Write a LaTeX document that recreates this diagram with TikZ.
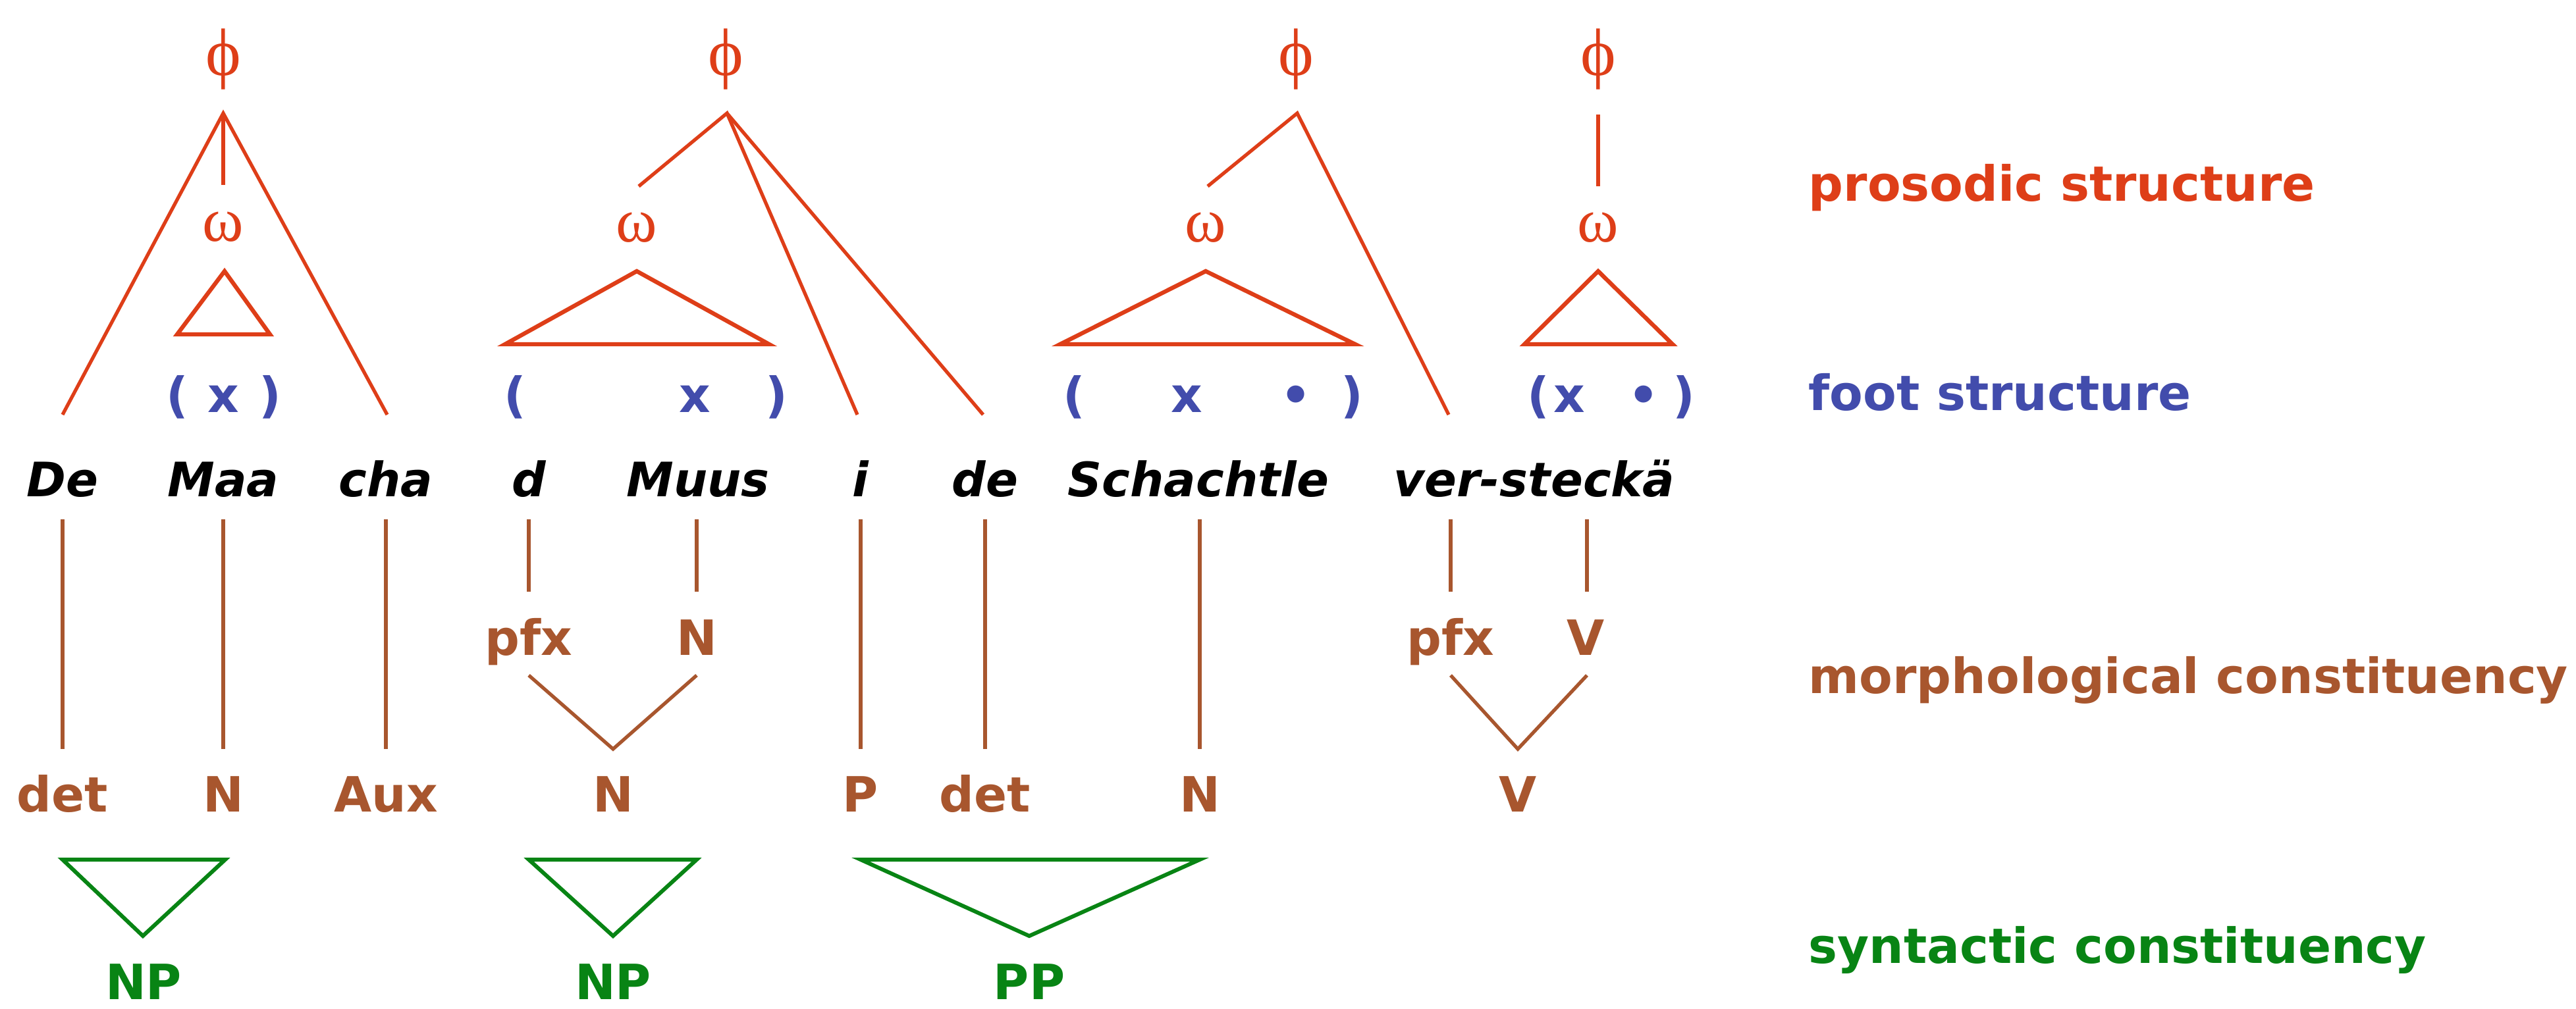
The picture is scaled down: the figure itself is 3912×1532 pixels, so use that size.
\documentclass[tikz,border=0pt]{standalone}
\usepackage{fontspec}
\setmainfont{DejaVu Sans}
\newfontfamily\grk{Liberation Serif}
\definecolor{pred}{RGB}{222,62,24}
\definecolor{pblue}{RGB}{66,76,172}
\definecolor{pbrown}{RGB}{168,86,46}
\definecolor{pgreen}{RGB}{8,132,20}
\begin{document}
\begin{tikzpicture}[x=0.01cm,y=-0.01cm,
  word/.style={anchor=base,inner sep=0pt,font=\fontsize{20.5}{24}\selectfont\bfseries\itshape,text=black},
  cat/.style={anchor=base,inner sep=0pt,font=\fontsize{21}{25}\selectfont\bfseries,text=pbrown},
  foot/.style={anchor=base,inner sep=0pt,font=\fontsize{21}{25}\selectfont\bfseries,text=pblue},
  syn/.style={anchor=base,inner sep=0pt,font=\fontsize{21}{25}\selectfont\bfseries,text=pgreen},
  gk/.style={inner sep=0pt,font=\grk\fontsize{29}{32}\selectfont,text=pred},
  gkb/.style={anchor=base,inner sep=0pt,font=\grk\fontsize{27}{30}\selectfont,text=pred},
  lab/.style={anchor=base west,inner sep=0pt,font=\fontsize{21}{25}\selectfont\bfseries},
  pros/.style={draw=pred,line width=1.5pt},
  tri/.style={draw=pred,line width=1.8pt},
  morph/.style={draw=pbrown,line width=1.5pt},
  synl/.style={draw=pgreen,line width=1.7pt}]
\useasboundingbox (0,0) rectangle (3912,1532);

% ---------- phi ----------
\node[gk] (phi1) at (339,90) {ϕ};
\node[gk] (phi2) at (1102,90) {ϕ};
\node[gk] (phi3) at (1968,90) {ϕ};
\node[gk] (phi4) at (2427,90) {ϕ};
% ---------- omega ----------
\node[gkb] (om1) at (339,366) {ω};
\node[gkb] (om2) at (967,367) {ω};
\node[gkb] (om3) at (1831,367) {ω};
\node[gkb] (om4) at (2427,367) {ω};

% ---------- foot structure ----------
\node[foot] (f1a) at (269,626) {(};
\node[foot] (f1b) at (339,626) {x};
\node[foot] (f1c) at (410,626) {)};
\node[foot] (f2a) at (782,626) {(};
\node[foot] (f2b) at (1055,626) {x};
\node[foot] (f2c) at (1179,626) {)};
\node[foot] (f3a) at (1631,626) {(};
\node[foot] (f3b) at (1802,626) {x};
\node[foot] (f3c) at (1968,626) {•};
\node[foot] (f3d) at (2053,626) {)};
\node[foot] (f4a) at (2336,626) {(};
\node[foot] (f4b) at (2383,626) {x};
\node[foot] (f4c) at (2496,626) {•};
\node[foot] (f4d) at (2557,626) {)};

% ---------- words ----------
\node[word] (wDe) at (95,754) {De};
\node[word] (wMaa) at (339,754) {Maa};
\node[word] (wcha) at (586,754) {cha};
\node[word] (wd) at (803,754) {d};
\node[word] (wMuus) at (1060,754) {Muus};
\node[word] (wi) at (1307,754) {i};
\node[word] (wde) at (1496,754) {de};
\node[word] (wSch) at (1820,754) {Schachtle};
\node[word] (wver) at (2330,754) {ver-steckä};

% ---------- morphology ----------
\node[cat] (pfx1) at (803,995) {pfx};
\node[cat] (mN1) at (1058,995) {N};
\node[cat] (pfx2) at (2203,995) {pfx};
\node[cat] (mV1) at (2408,995) {V};

\node[cat] (cdet1) at (95,1233) {det};
\node[cat] (cN1) at (339,1233) {N};
\node[cat] (cAux) at (586,1233) {Aux};
\node[cat] (cN2) at (931,1233) {N};
\node[cat] (cP) at (1307,1233) {P};
\node[cat] (cdet2) at (1496,1233) {det};
\node[cat] (cN3) at (1822,1233) {N};
\node[cat] (cV) at (2305,1233) {V};

% ---------- syntax ----------
\node[syn] (np1) at (218,1518) {NP};
\node[syn] (np2) at (931,1518) {NP};
\node[syn] (pp) at (1563,1518) {PP};

% ---------- right-hand labels ----------
\node[lab,text=pred] (lpros) at (2746,305) {prosodic structure};
\node[lab,text=pblue] (lfoot) at (2746,623) {foot structure};
\node[lab,text=pbrown] (lmorph) at (2746,1053) {morphological constituency};
\node[lab,text=pgreen] (lsyn) at (2746,1463) {syntactic constituency};

% ---------- coordinates: prosodic ----------
\coordinate (a1) at (339,172);
\coordinate (a1De) at (95,630);
\coordinate (a1cha) at (588,630);
\coordinate (a1om) at (339,281);
\coordinate (t1a) at (341,412);
\coordinate (t1b) at (269,508);
\coordinate (t1c) at (410,508);

\coordinate (a2) at (1104,172);
\coordinate (a2om) at (970,283);
\coordinate (a2i) at (1302,630);
\coordinate (a2de) at (1493,630);
\coordinate (t2a) at (967,412);
\coordinate (t2b) at (767,523);
\coordinate (t2c) at (1168,523);

\coordinate (a3) at (1970,172);
\coordinate (a3om) at (1834,283);
\coordinate (a3ver) at (2200,630);
\coordinate (t3a) at (1831,412);
\coordinate (t3b) at (1610,523);
\coordinate (t3c) at (2058,523);

\coordinate (a4) at (2427,174);
\coordinate (a4om) at (2427,283);
\coordinate (t4a) at (2427,412);
\coordinate (t4b) at (2315,523);
\coordinate (t4c) at (2540,523);

\draw[pros] (a1De) -- (a1) -- (a1cha);
\draw[pros] (a1) -- (a1om);
\draw[tri] (t1a) -- (t1b) -- (t1c) -- cycle;
\draw[pros] (a2om) -- (a2) -- (a2i);
\draw[pros] (a2) -- (a2de);
\draw[tri] (t2a) -- (t2b) -- (t2c) -- cycle;
\draw[pros] (a3om) -- (a3) -- (a3ver);
\draw[tri] (t3a) -- (t3b) -- (t3c) -- cycle;
\draw[pros] (a4) -- (a4om);
\draw[tri] (t4a) -- (t4b) -- (t4c) -- cycle;

% ---------- coordinates: morphology ----------
\foreach \n/\x in {De/95,Maa/339,cha/586,i/1307,de/1496,Sch/1822}{
  \coordinate (u\n) at (\x,789);
  \coordinate (l\n) at (\x,1138);
  \draw[morph] (u\n) -- (l\n);
}
\foreach \n/\x in {d/803,Muus/1058,ver/2203,steck/2410}{
  \coordinate (s\n) at (\x,789);
  \coordinate (e\n) at (\x,899);
  \draw[morph] (s\n) -- (e\n);
}
\coordinate (v1l) at (803,1026);
\coordinate (v1r) at (1058,1026);
\coordinate (v1b) at (931,1138);
\coordinate (v2l) at (2203,1026);
\coordinate (v2r) at (2410,1026);
\coordinate (v2b) at (2305,1138);
\draw[morph] (v1l) -- (v1b) -- (v1r);
\draw[morph] (v2l) -- (v2b) -- (v2r);

% ---------- syntax triangles ----------
\coordinate (g1a) at (95,1306);
\coordinate (g1b) at (342,1306);
\coordinate (g1c) at (217,1422);
\coordinate (g2a) at (803,1306);
\coordinate (g2b) at (1058,1306);
\coordinate (g2c) at (931,1422);
\coordinate (g3a) at (1307,1306);
\coordinate (g3b) at (1822,1306);
\coordinate (g3c) at (1563,1422);
\draw[synl] (g1a) -- (g1b) -- (g1c) -- cycle;
\draw[synl] (g2a) -- (g2b) -- (g2c) -- cycle;
\draw[synl] (g3a) -- (g3b) -- (g3c) -- cycle;
\end{tikzpicture}
\end{document}
